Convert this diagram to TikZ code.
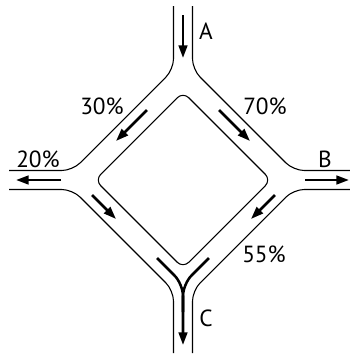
\documentclass[tikz,border=0pt]{standalone}
\usepackage{fontspec}
\setmainfont{PT Sans}
\usetikzlibrary{arrows.meta}

\begin{document}
\begin{tikzpicture}[
            x=0.75pt, y=-0.75pt,
            road/.style={line width=0.8pt, rounded corners=8pt},
            flow/.style={line width=1.9pt, -{Triangle[length=9.5pt,width=6.5pt]}},
            merge/.style={line width=1.9pt, rounded corners=9pt},
            share/.style={font=\fontsize{17.5}{20}\selectfont, inner sep=0pt}
        ]
        \useasboundingbox (0,0) rectangle (350,361);

        % --- Road edges ---
        \draw[road] (173.5,6) -- (173.5,69.5) -- (72.5,170.5) -- (9,170.5);
        \draw[road] (192.5,6) -- (192.5,69.5) -- (293.5,170.5) -- (350,170.5);
        \draw[road] (9,189.5) -- (72.5,189.5) -- (173.5,290.5) -- (173.5,353);
        \draw[road] (350,189.5) -- (293.5,189.5) -- (192.5,290.5) -- (192.5,353);
        \draw[road, rounded corners=6pt] (183,92) -- (271,180) -- (183,268) -- (95,180) -- cycle;

        % --- Arrow ends ---
        \coordinate (A1) at (183,15);   \coordinate (A2) at (183,58);
        \coordinate (UL1) at (147,110); \coordinate (UL2) at (116,141);
        \coordinate (UR1) at (219,110); \coordinate (UR2) at (250,141);
        \coordinate (L1) at (61,180);   \coordinate (L2) at (16,180);
        \coordinate (B1) at (305,180);  \coordinate (B2) at (349,180);
        \coordinate (DL1) at (92,195);  \coordinate (DL2) at (116,219);
        \coordinate (DR1) at (275,195); \coordinate (DR2) at (251,219);
        \coordinate (CL) at (157,258);  \coordinate (CR) at (209,258);
        \coordinate (CV) at (183,284);  \coordinate (CM) at (183,312);
        \coordinate (C2) at (183,345);

        % --- Flows ---
        \draw[flow] (A1) -- (A2);
        \draw[flow] (UL1) -- (UL2);
        \draw[flow] (UR1) -- (UR2);
        \draw[flow] (L1) -- (L2);
        \draw[flow] (B1) -- (B2);
        \draw[flow] (DL1) -- (DL2);
        \draw[flow] (DR1) -- (DR2);
        \draw[merge] (CR) -- (CV) -- (CM);
        \draw[merge, -{Triangle[length=9.5pt,width=6.5pt]}] (CL) -- (CV) -- (C2);

        % --- Labels ---
        \node[share] (labA) at (206,31) {A};
        \node[share] (labB) at (325,159) {B};
        \node[share] (labC) at (206,318) {C};
        \node[share] (p30) at (102,106) {30\%};
        \node[share] (p70) at (265,106) {70\%};
        \node[share] (p20) at (38,159) {20\%};
        \node[share] (p55) at (264,254) {55\%};
\end{tikzpicture}
\end{document}
